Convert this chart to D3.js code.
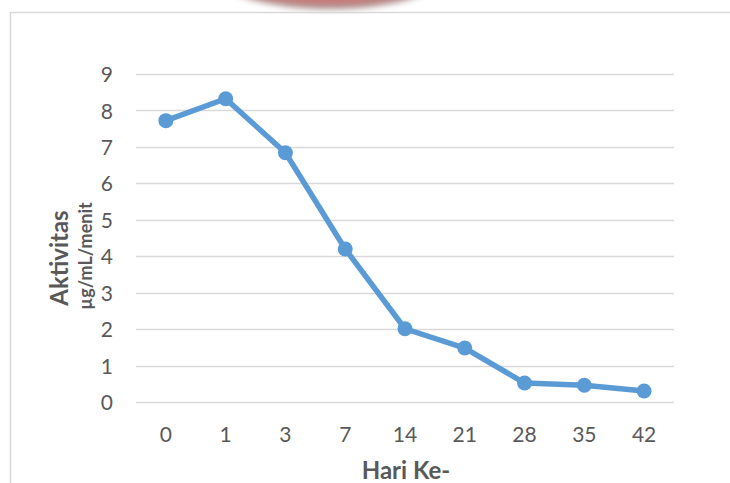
<!DOCTYPE html>
<html>
<head>
<meta charset="utf-8">
<script src="https://cdn.jsdelivr.net/npm/d3@7"></script>
<style>
  html, body { margin: 0; padding: 0; background: #ffffff; }
  svg { display: block; }
</style>
</head>
<body>
<svg id="chart" width="730" height="483"></svg>
<script>
// Enzyme activity over storage days
const days = ["0", "1", "3", "7", "14", "21", "28", "35", "42"];
const activity = [7.72, 8.32, 6.84, 4.2, 2.01, 1.48, 0.52, 0.46, 0.3];
const yTicks = [0, 1, 2, 3, 4, 5, 6, 7, 8, 9];
const xTitle = "Hari Ke-";
const yTitle = "Aktivitas";
const yUnit = "µg/mL/menit";

const svg = d3.select("#chart");
const font = "Lato, 'Open Sans', sans-serif";
const textColor = "#595959";

const plot = { left: 136, right: 674, top: 74, bottom: 402 };

const x = d3.scaleBand().domain(days).range([plot.left, plot.right]);
const y = d3.scaleLinear().domain([0, 9]).range([plot.bottom, plot.top]);

// soft red shape clipped at the top edge
const defs = svg.append("defs");
const grad = defs.append("radialGradient").attr("id", "blobGrad")
  .attr("cx", "50%").attr("cy", "40%").attr("r", "60%");
grad.append("stop").attr("offset", "0%").attr("stop-color", "#e06a66");
grad.append("stop").attr("offset", "75%").attr("stop-color", "#c8625f");
grad.append("stop").attr("offset", "100%").attr("stop-color", "#8a7d7d");
defs.append("filter").attr("id", "blobBlur")
  .append("feGaussianBlur").attr("stdDeviation", 3);
svg.append("ellipse")
  .attr("cx", 330).attr("cy", -22).attr("rx", 108).attr("ry", 31)
  .attr("fill", "url(#blobGrad)").attr("opacity", 0.85)
  .attr("filter", "url(#blobBlur)");

// chart frame
svg.append("path")
  .attr("d", "M10.5,483 L10.5,12.5 L730,12.5")
  .attr("fill", "none").attr("stroke", "#d9d9d9").attr("stroke-width", 1.5);

// gridlines
svg.append("g").selectAll("line").data(yTicks).join("line")
  .attr("x1", plot.left).attr("x2", plot.right)
  .attr("y1", d => Math.round(y(d)) + 0.5).attr("y2", d => Math.round(y(d)) + 0.5)
  .attr("stroke", "#d9d9d9").attr("stroke-width", 1.5);

// y axis labels
const yAxis = d3.axisLeft(y).tickValues(yTicks).tickSize(0).tickPadding(0);
const gy = svg.append("g").attr("transform", `translate(113,0)`).call(yAxis);
gy.select(".domain").remove();
gy.selectAll("text").attr("font-family", font).attr("font-size", 21)
  .attr("fill", textColor).attr("dy", "0.36em");

// x axis labels
const xAxis = d3.axisBottom(x).tickSize(0).tickPadding(0);
const gx = svg.append("g").attr("transform", `translate(0,427)`).call(xAxis);
gx.select(".domain").remove();
gx.selectAll("text").attr("font-family", font).attr("font-size", 21)
  .attr("fill", textColor).attr("dy", "0.7em");

// axis titles
svg.append("text").attr("x", 406).attr("y", 479)
  .attr("text-anchor", "middle").attr("font-family", font)
  .attr("font-size", 24).attr("font-weight", "bold").attr("fill", textColor)
  .text(xTitle);

svg.append("text").attr("transform", "translate(68,258) rotate(-90)")
  .attr("text-anchor", "middle").attr("font-family", font)
  .attr("font-size", 24).attr("font-weight", "bold").attr("fill", textColor)
  .text(yTitle);

svg.append("text").attr("transform", "translate(92,256) rotate(-90)")
  .attr("text-anchor", "middle").attr("font-family", font)
  .attr("font-size", 18).attr("font-weight", "bold").attr("fill", textColor)
  .text(yUnit);

// line and markers
const cx = d => x(d) + x.bandwidth() / 2;
const line = d3.line().x((d, i) => cx(days[i])).y(d => y(d));
svg.append("path").datum(activity)
  .attr("d", line).attr("fill", "none")
  .attr("stroke", "#5b9bd5").attr("stroke-width", 5.5)
  .attr("stroke-linejoin", "round");
svg.append("g").selectAll("circle").data(activity).join("circle")
  .attr("cx", (d, i) => cx(days[i])).attr("cy", d => y(d))
  .attr("r", 7.5).attr("fill", "#5b9bd5");
</script>
</body>
</html>
